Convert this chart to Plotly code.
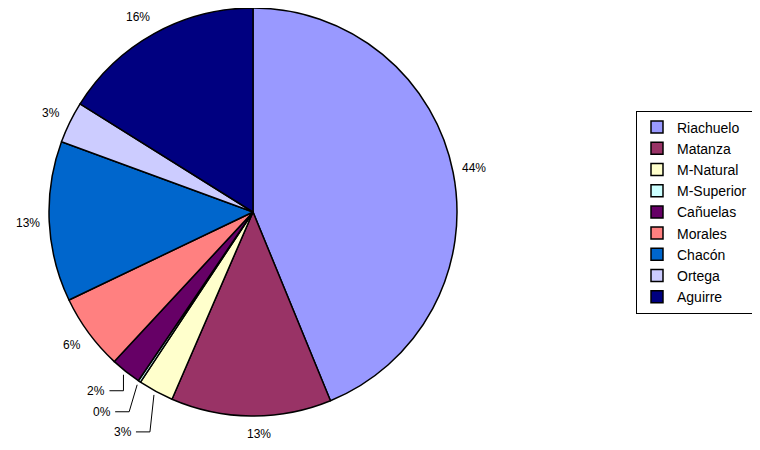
import math
import plotly.graph_objects as go

labels = ["Riachuelo", "Matanza", "M-Natural", "M-Superior", "Cañuelas",
          "Morales", "Chacón", "Ortega", "Aguirre"]
values = [43.8, 12.7, 2.8, 0.2, 2.4, 6.0, 12.7, 3.3, 16.1]
colors = ["#9999FF", "#993366", "#FFFFCC", "#CCFFFF", "#660066",
          "#FF8080", "#0066CC", "#CCCCFF", "#000080"]
# which slices get an elbow leader line: (dx, dy) of elbow from edge, in px
leaders = {2: (-4, 37), 3: (-8, 27), 4: (0, 16)}
# small label nudges in px
nudges = {1: (8, -3), 8: (-6, 2)}

# page body margin is 8px, so the figure is drawn at offset (8, 8)
OFF = 8
W, H = 760 - OFF, 450 - OFF
CX, CY, R = 253, 212, 204   # screen pixel coordinates

def px(x):
    return (x - OFF) / W

def py(y):
    return 1 - (y - OFF) / H

def clamp(v):
    return max(0.0, min(1.0, v))

fig = go.Figure(go.Pie(
    labels=labels, values=values, sort=False, direction="clockwise", rotation=0,
    marker=dict(colors=colors, line=dict(color="black", width=1.5)),
    textinfo="none", hoverinfo="label+percent", automargin=False,
    domain=dict(x=[clamp(px(CX - R)), clamp(px(CX + R))],
                y=[clamp(py(CY + R)), clamp(py(CY - R))]),
))

total = sum(values)
cum = 0
annotations = []
shapes = []
lab_font = dict(family="Liberation Sans, Arial", size=12, color="black")
for i, v in enumerate(values):
    mid = (cum + v / 2) / total * 2 * math.pi
    cum += v
    pct = f"{round(v / total * 100):d}%"
    if i in leaders:
        ex = CX + (R + 4) * math.sin(mid)
        ey = CY - (R + 4) * math.cos(mid)
        dx, dy = leaders[i]
        kx, ky = ex + dx, ey + dy
        hx = kx - 14
        shapes.append(dict(type="path", xref="paper", yref="paper",
                           path=f"M {px(ex)} {py(ey)} L {px(kx)} {py(ky)} L {px(hx)} {py(ky)}",
                           line=dict(color="black", width=1)))
        annotations.append(dict(x=px(hx - 2), y=py(ky), xref="paper", yref="paper",
                                text=pct, showarrow=False, xanchor="right", yanchor="middle",
                                font=lab_font))
    else:
        nx, ny = nudges.get(i, (0, 0))
        lx = CX + (R + 21) * math.sin(mid) + nx
        ly = CY - (R + 21) * math.cos(mid) + ny
        annotations.append(dict(x=px(lx), y=py(ly), xref="paper", yref="paper",
                                text=pct, showarrow=False, xanchor="center", yanchor="middle",
                                font=lab_font))

fig.update_layout(
    width=W, height=H,
    margin=dict(l=0, r=0, t=0, b=0, autoexpand=False),
    paper_bgcolor="white", plot_bgcolor="white",
    font=dict(family="Liberation Sans, Arial", size=14, color="black"),
    showlegend=True,
    legend=dict(x=px(753), y=py(212), xanchor="right", yanchor="middle",
                bordercolor="black", borderwidth=1, bgcolor="white",
                font=dict(size=14), traceorder="normal", itemwidth=30,
                tracegroupgap=0),
    annotations=annotations, shapes=shapes,
)

fig.write_html("out.html")
